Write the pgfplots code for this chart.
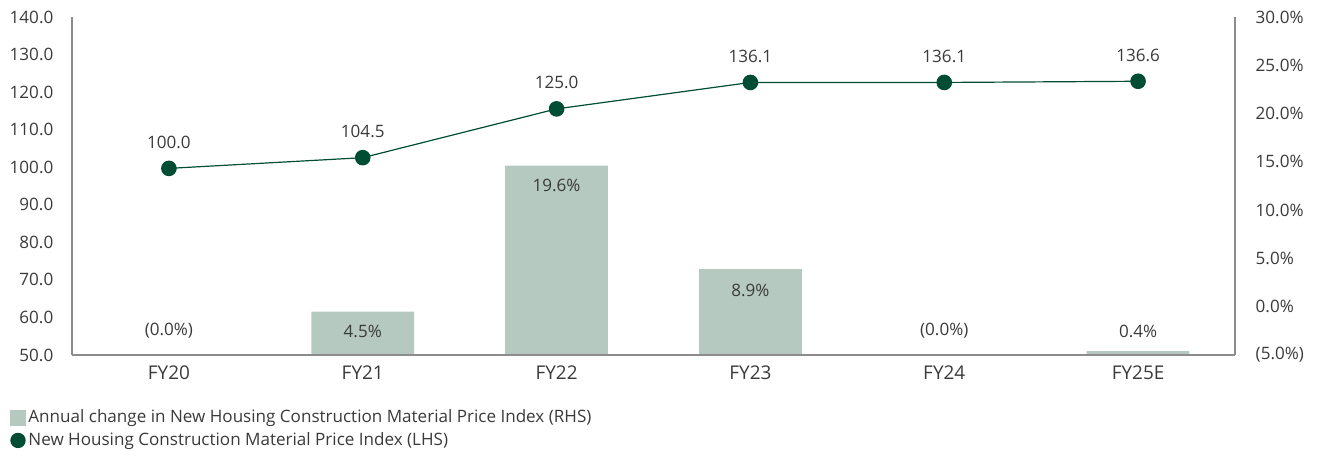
\documentclass[border=0pt]{standalone}
\usepackage{fontspec}
\setmainfont{Open Sans}
\usepackage{pgfplots}
\pgfplotsset{compat=1.18}
\definecolor{barc}{HTML}{B5C9C1}
\definecolor{linec}{HTML}{004D33}
\definecolor{axc}{HTML}{8C8C8C}
\definecolor{txt}{HTML}{3A3A3A}
\newcommand{\fs}{\fontsize{12.8}{14}\selectfont}
\newcommand{\fx}{\fontsize{14.2}{16}\selectfont}
\begin{document}
\begin{tikzpicture}
\path[use as bounding box] (0,0) rectangle (996pt,338.25pt);
\pgfplotsset{
  base/.style={
    scale only axis, width=872.25pt, height=253.5pt,
    at={(54pt,72pt)}, anchor=south west,
    xmin=-0.5, xmax=5.5,
    major tick length=0pt,
    ticklabel style={font=\fs, text=txt},
    axis line style={axc, line width=0.9pt},
  }
}
% bars on right axis (base at -5%)
\begin{axis}[base,
  axis x line=none, axis y line*=right,
  ymin=0, ymax=35,
  ytick={0,5,10,15,20,25,30,35},
  yticklabels={(5.0\%),0.0\%,5.0\%,10.0\%,15.0\%,20.0\%,25.0\%,30.0\%},
  yticklabel style={anchor=west, xshift=12pt},
]
\addplot[ybar, bar width=0.53, fill=barc, draw=none]
  coordinates {(0,0.0) (1,4.5) (2,19.6) (3,8.9) (4,0.0) (5,0.4)};
\addplot[only marks, mark=none, nodes near coords, point meta=explicit symbolic,
  nodes near coords style={font=\fs, text=txt, anchor=center}]
  coordinates {(0,2.48) [(0.0\%)] (1,2.48) [4.5\%] (2,17.56) [19.6\%]
               (3,6.70) [8.9\%] (4,2.48) [(0.0\%)] (5,2.48) [0.4\%]};
\end{axis}
% left axis and x axis
\begin{axis}[base,
  axis x line*=bottom, axis y line*=left,
  ymin=50, ymax=140,
  ytick={50,60,70,80,90,100,110,120,130,140},
  yticklabels={50.0,60.0,70.0,80.0,90.0,100.0,110.0,120.0,130.0,140.0},
  yticklabel style={anchor=east, xshift=-10.5pt},
  xtick={0,1,2,3,4,5},
  xticklabels={FY20,FY21,FY22,FY23,FY24,FY25E},
  xticklabel style={font=\fx, anchor=center, yshift=-13.5pt},
]
\addplot[draw=none, forget plot] coordinates {(0,50)};
\end{axis}
% line series (own scale)
\begin{axis}[base, hide axis,
  ymin=21.6, ymax=163.6,
  legend style={at={(-0.0533,-0.154)}, anchor=north west, draw=none, fill=none,
    font=\fs, text=txt, inner sep=0pt, row sep=2pt},
  legend cell align=left,
]
\addlegendimage{legend image code/.code={\fill[barc] (0pt,-5.6pt) rectangle (11.2pt,5.6pt);}}
\addlegendentry{Annual change in New Housing Construction Material Price Index (RHS)}
\addplot[linec, line width=0.9pt, mark=*, mark size=5.4pt,
  mark options={fill=linec, draw=linec},
  nodes near coords, point meta=explicit symbolic,
  nodes near coords style={font=\fs, text=txt, anchor=center, yshift=19.5pt},
  legend image code/.code={\fill[linec] (5.6pt,0pt) circle (5.3pt);}]
  coordinates {(0,100.0) [100.0] (1,104.5) [104.5] (2,125.0) [125.0]
               (3,136.1) [136.1] (4,136.1) [136.1] (5,136.6) [136.6]};
\addlegendentry{New Housing Construction Material Price Index (LHS)}
\end{axis}
\end{tikzpicture}
\end{document}
